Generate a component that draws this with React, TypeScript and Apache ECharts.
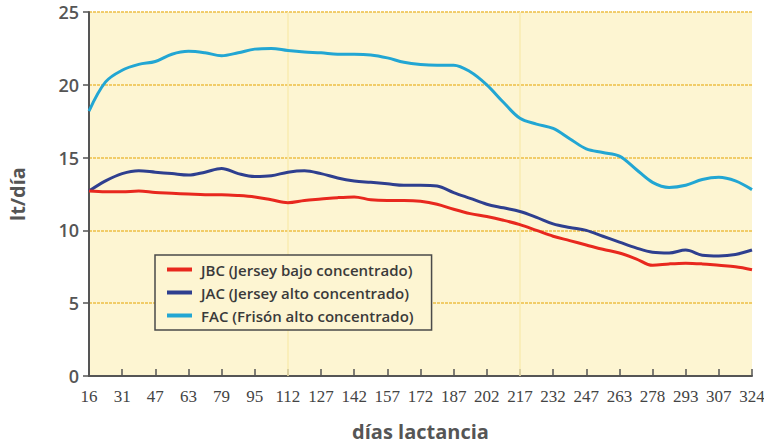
import React, { useEffect, useRef } from "react";
import * as echarts from "echarts";

const dayLabels = [16, 31, 47, 63, 79, 95, 112, 127, 142, 157, 172, 187, 202, 217, 232, 247, 263, 278, 293, 307, 324];

// values at every tick and half-way between ticks
const jbc = [
  12.7, 12.65, 12.65, 12.7, 12.6, 12.55, 12.5, 12.45, 12.45, 12.4, 12.3,
  12.1, 11.9, 12.05, 12.15, 12.25, 12.3, 12.1, 12.05, 12.05, 12.0,
  11.8, 11.45, 11.15, 10.95, 10.7, 10.4, 10.0, 9.6, 9.3, 9.0,
  8.7, 8.45, 8.05, 7.6, 7.7, 7.75, 7.7, 7.6, 7.5, 7.3,
];
const jac = [
  12.7, 13.4, 13.9, 14.1, 14.0, 13.9, 13.8, 14.0, 14.25, 13.9, 13.7,
  13.75, 14.0, 14.1, 13.9, 13.6, 13.4, 13.3, 13.2, 13.1, 13.1,
  13.05, 12.6, 12.2, 11.8, 11.55, 11.3, 10.9, 10.45, 10.2, 10.0,
  9.6, 9.2, 8.8, 8.5, 8.45, 8.65, 8.3, 8.25, 8.35, 8.65,
];
const fac = [
  18.2, 20.2, 21.0, 21.4, 21.6, 22.1, 22.3, 22.2, 22.0, 22.2, 22.45,
  22.5, 22.35, 22.25, 22.2, 22.1, 22.1, 22.05, 21.85, 21.55, 21.4,
  21.35, 21.35, 20.9, 20.0, 18.8, 17.7, 17.3, 17.0, 16.3, 15.6,
  15.35, 15.1, 14.2, 13.3, 12.95, 13.1, 13.5, 13.65, 13.4, 12.8,
];
const seriesNames = [
  "JBC (Jersey bajo concentrado)",
  "JAC (Jersey alto concentrado)",
  "FAC (Frisón alto concentrado)",
];
const yTicks = [0, 5, 10, 15, 20, 25];
const markedDays = [112, 217];

const categories: string[] = [];
dayLabels.forEach((d, i) => {
  categories.push(String(d));
  if (i < dayLabels.length - 1) categories.push("m" + Math.round((d + dayLabels[i + 1]) / 2));
});

export default function App() {
  const ref = useRef<HTMLDivElement>(null);
  useEffect(() => {
    if (!ref.current) return;
    const chart = echarts.init(ref.current, null, { renderer: "svg" });
    const lineSeries = (name: string, data: number[], color: string, z: number, extra: any = {}) => ({
      name,
      type: "line",
      data,
      smooth: 0.35,
      symbol: "none",
      z,
      lineStyle: { color, width: 3 },
      itemStyle: { color },
      ...extra,
    });
    chart.setOption({
      animation: false,
      backgroundColor: "#ffffff",
      grid: {
        left: 89,
        right: 12,
        top: 12,
        bottom: 69,
        outerBoundsMode: "none",
        containLabel: false,
        show: true,
        backgroundColor: "#FDF5D2",
        borderWidth: 0,
      },
      legend: {
        orient: "vertical",
        left: 155,
        top: 255,
        width: 283,
        padding: [7, 18, 7, 12],
        itemGap: 8,
        itemWidth: 25,
        itemHeight: 4,
        icon: "rect",
        backgroundColor: "#FDF5D2",
        borderColor: "#4a4a4a",
        borderWidth: 1.5,
        borderRadius: 0,
        textStyle: {
          fontFamily: "Open Sans",
          fontWeight: 600,
          fontSize: 15,
          color: "#3a3a3a",
          padding: [0, 0, 0, 4],
        },
        data: seriesNames,
      },
      xAxis: {
        type: "category",
        data: categories,
        boundaryGap: false,
        name: "días lactancia",
        nameLocation: "middle",
        nameGap: 45,
        nameTextStyle: { fontFamily: "Open Sans", fontWeight: 700, fontSize: 20, color: "#555" },
        axisLine: { lineStyle: { color: "#555", width: 2 } },
        axisTick: { interval: 1, inside: true, length: 7, lineStyle: { color: "#555", width: 1.5 } },
        axisLabel: {
          interval: 1,
          margin: 12,
          fontFamily: "Liberation Serif",
          fontSize: 17,
          color: "#444",
          formatter: (v: string) => (v.startsWith("m") ? "" : v),
        },
        splitLine: { show: false },
      },
      yAxis: {
        type: "value",
        min: 0,
        max: 25,
        interval: 5,
        name: "lt/día",
        nameLocation: "middle",
        nameGap: 62,
        nameTextStyle: { fontFamily: "Open Sans", fontWeight: 700, fontSize: 20, color: "#555" },
        axisLine: { show: true, lineStyle: { color: "#555", width: 2 } },
        axisTick: { show: true, length: 6, lineStyle: { color: "#555", width: 1.5 } },
        axisLabel: {
          margin: 10,
          fontFamily: "Open Sans",
          fontWeight: 600,
          fontSize: 18,
          color: "#555",
          formatter: (v: number) => (yTicks.includes(v) ? String(v) : ""),
        },
        splitLine: { show: true, lineStyle: { color: "#EDBE45", width: 1.5, type: [3, 1] } },
      },
      series: [
        lineSeries(seriesNames[2], fac, "#22A6D3", 3, {
          markLine: {
            silent: true,
            symbol: "none",
            label: { show: false },
            lineStyle: { color: "#F8EBB0", width: 1.5, type: "solid" },
            data: markedDays.map((d) => ({ xAxis: String(d) })),
            z: 1,
          },
        }),
        lineSeries(seriesNames[1], jac, "#2E3F8F", 4),
        lineSeries(seriesNames[0], jbc, "#E8281E", 5),
      ],
    });
    return () => chart.dispose();
  }, []);
  return <div ref={ref} style={{ width: 764, height: 445, position: "absolute", left: 0, top: 0 }} />;
}
